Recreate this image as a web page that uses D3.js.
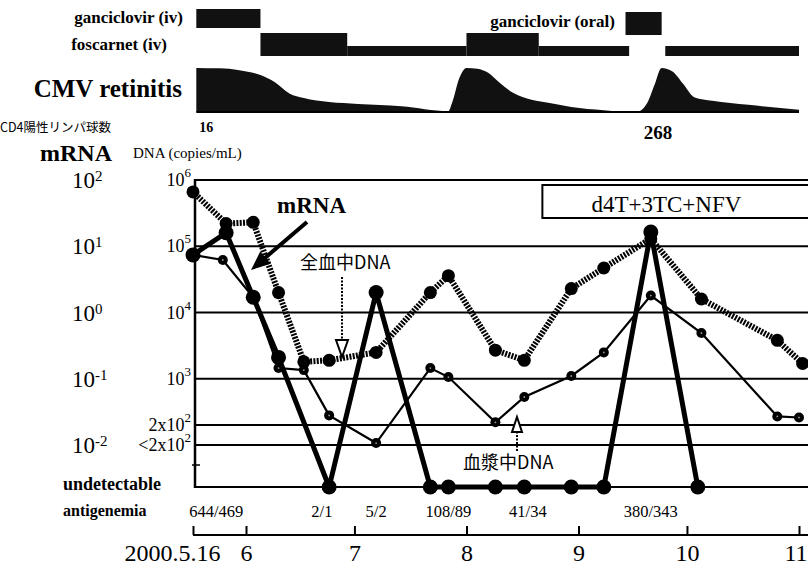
<!DOCTYPE html>
<html lang="ja">
<head>
<meta charset="UTF-8">
<title>CMV retinitis course</title>
<style>
  body { margin: 0; background: #fff; }
  svg text { font-family: "Liberation Serif", "DejaVu Serif", serif; fill: #000; }
  svg text.jp { font-family: "Noto Sans CJK JP", sans-serif; }
</style>
</head>
<body>
<script src="https://cdn.jsdelivr.net/npm/d3@7"></script>
<script>
// ---- data ----
// whole blood DNA (copies/mL)
let wbDates = ["2000-05-16","2000-05-26","2000-06-03","2000-06-10","2000-06-17","2000-06-24","2000-07-07","2000-07-22","2000-07-27","2000-08-09","2000-08-17","2000-08-30","2000-09-08","2000-09-21","2000-10-05","2000-10-26","2000-11-02"];
let wbDNA = [660000,220000,230000,20000,1800,1900,2500,20000,36000,2700,1900,23000,47000,130000,16000,3800,1700];

// plasma DNA (copies/mL)
let plDates = ["2000-05-16","2000-05-25","2000-06-03","2000-06-10","2000-06-17","2000-06-24","2000-07-07","2000-07-22","2000-07-27","2000-08-09","2000-08-17","2000-08-30","2000-09-08","2000-09-21","2000-10-05","2000-10-26","2000-11-01"];
let plDNA = [74000,62000,17000,1450,1350,280,107,1450,1060,220,530,1100,2500,18000,4900,270,260];

// mRNA, null = undetectable
let mrDates = ["2000-05-16","2000-05-26","2000-06-03","2000-06-10","2000-06-24","2000-07-07","2000-07-22","2000-07-27","2000-08-09","2000-08-17","2000-08-30","2000-09-08","2000-09-21","2000-10-04"];
let mrRNA = [7.4,16,1.7,0.21,null,2.0,null,null,null,null,null,null,16.4,null];

// CMV retinitis activity (0..1)
let retDates = ["2000-05-17","2000-05-24","2000-05-30","2000-06-05","2000-06-09","2000-06-13","2000-06-17","2000-06-24","2000-07-02","2000-07-14","2000-07-27","2000-07-28","2000-07-30","2000-08-01","2000-08-04","2000-08-07","2000-08-10","2000-08-14","2000-08-19","2000-08-24","2000-08-30","2000-09-08","2000-09-17","2000-09-20","2000-09-22","2000-09-24","2000-09-27","2000-09-30","2000-10-03","2000-10-08","2000-10-18","2000-11-01"];
let retLevel = [0.98,0.97,0.93,0.82,0.66,0.41,0.31,0.22,0.18,0.13,0.02,0.2,0.75,0.98,0.96,0.87,0.66,0.42,0.27,0.2,0.11,0.04,0,0.2,0.6,0.98,0.9,0.62,0.33,0.25,0.16,0.05];

// drugs
let gcvIv = ["2000-05-17","2000-06-05"];
let gcvOral = ["2000-09-14","2000-09-24"];
let fosStart = ["2000-06-05","2000-06-29","2000-08-01","2000-08-21","2000-09-25"];
let fosEnd = ["2000-06-29","2000-08-01","2000-08-21","2000-09-15","2000-11-01"];
let fosDose = ["induction","maintenance","induction","maintenance","maintenance"];
let haartStart = "2000-08-22";

// CD4 counts and antigenemia
let cd4Dates = ["2000-05-20","2000-09-23"];
let cd4Counts = ["16","268"];
let agDates = ["2000-05-23","2000-06-22","2000-07-07","2000-07-27","2000-08-18","2000-09-21"];
let agLabels = ["644/469","2/1","5/2","108/89","41/34","380/343"];

// axes
let tickDates = ["2000-05-16","2000-06-01","2000-07-01","2000-08-01","2000-09-01","2000-10-01","2000-11-01"];
let tickLabels = ["2000.5.16","6","7","8","9","10","11"];
let dnaTicks = [1e6,1e5,1e4,1e3,200,100];
let dnaBase = ["10","10","10","10","2x10","<2x10"];
let dnaSup = ["6","5","4","3","2","2"];
let rnaTicks = [100,10,1,0.1,0.01];
let rnaSup = ["2","1","0","-1","-2"];

// ---- layout ----
let svgWidth = 808, svgHeight = 569;
let plotLeft = 195, plotTop = 180, plotRight = 808, plotBottom = 487;
let parse = d3.timeParse("%Y-%m-%d");

let svg = d3.select("body").append("svg")
    .attr("width", svgWidth)
    .attr("height", svgHeight);

svg.append("rect").attr("width", svgWidth).attr("height", svgHeight).attr("fill", "#fff");

// scales
let x = d3.scaleTime()
    .domain([parse("2000-05-16"), parse("2000-06-01"), parse("2000-11-01")])
    .range([193, 246, 799]);
let yDNA = d3.scaleLog().domain([1e2, 1e6]).range([445, plotTop]);
let yRNA = d3.scaleLog().domain([1e-2, 1e2]).range([445, plotTop]);
let yRet = d3.scaleLinear().domain([0, 1]).range([112, 67]);

// ---- top panel: drugs ----
svg.append("rect")
    .attr("x", x(parse(gcvIv[0])))
    .attr("width", x(parse(gcvIv[1])) - x(parse(gcvIv[0])))
    .attr("y", 9).attr("height", 19)
    .attr("fill", "#111");

svg.append("rect")
    .attr("x", x(parse(gcvOral[0])))
    .attr("width", x(parse(gcvOral[1])) - x(parse(gcvOral[0])))
    .attr("y", 12).attr("height", 23)
    .attr("fill", "#111");

svg.append("g").selectAll("rect")
    .data(fosStart.map((d, i) => ({ s: parse(d), e: parse(fosEnd[i]), dose: fosDose[i] })))
    .join("rect")
    .attr("x", d => x(d.s))
    .attr("width", d => x(d.e) - x(d.s))
    .attr("y", d => d.dose === "induction" ? 33 : 46)
    .attr("height", d => d.dose === "induction" ? 23 : 10)
    .attr("fill", "#111");

svg.append("text").attr("x", 183).attr("y", 23).attr("text-anchor", "end")
    .style("font-size", "17px").style("font-weight", "bold").text("ganciclovir (iv)");
svg.append("text").attr("x", 167).attr("y", 50).attr("text-anchor", "end")
    .style("font-size", "17px").style("font-weight", "bold").text("foscarnet (iv)");
svg.append("text").attr("x", 615).attr("y", 27).attr("text-anchor", "end")
    .style("font-size", "17px").style("font-weight", "bold").text("ganciclovir (oral)");

// ---- retinitis ----
let ret = retDates.map((d, i) => ({ date: parse(d), v: retLevel[i] }));
svg.append("path").datum(ret)
    .attr("d", d3.area().x(d => x(d.date)).y0(yRet(0)).y1(d => yRet(d.v)).curve(d3.curveMonotoneX))
    .attr("fill", "#111");
svg.append("line")
    .attr("x1", x(ret[0].date)).attr("x2", x(ret[ret.length - 1].date))
    .attr("y1", yRet(0)).attr("y2", yRet(0))
    .attr("stroke", "#000").attr("stroke-width", 2);

svg.append("text").attr("x", 182).attr("y", 97).attr("text-anchor", "end")
    .style("font-size", "25px").style("font-weight", "bold").text("CMV retinitis");

// CD4
svg.append("text").attr("class", "jp").attr("x", 0).attr("y", 132)
    .style("font-size", "12.5px").text("CD4陽性リンパ球数");
svg.append("g").selectAll("text").data(cd4Counts).join("text")
    .attr("x", (d, i) => x(parse(cd4Dates[i])))
    .attr("y", (d, i) => i === 0 ? 132 : 139)
    .attr("text-anchor", "middle")
    .style("font-size", (d, i) => i === 0 ? "14px" : "19px")
    .style("font-weight", "bold")
    .text(d => d);

// ---- main plot ----
svg.append("text").attr("x", 40).attr("y", 161)
    .style("font-size", "24px").style("font-weight", "bold").text("mRNA");
svg.append("text").attr("x", 133).attr("y", 158)
    .style("font-size", "15px").text("DNA (copies/mL)");

// grid lines
svg.append("g").selectAll("line").data(dnaTicks).join("line")
    .attr("x1", plotLeft).attr("x2", plotRight)
    .attr("y1", d => yDNA(d)).attr("y2", d => yDNA(d))
    .attr("stroke", "#000").attr("stroke-width", 2);
svg.append("line")
    .attr("x1", plotLeft).attr("x2", plotRight)
    .attr("y1", plotBottom).attr("y2", plotBottom)
    .attr("stroke", "#000").attr("stroke-width", 2.2);
svg.append("line")
    .attr("x1", plotLeft).attr("x2", plotLeft)
    .attr("y1", plotTop - 1).attr("y2", plotBottom + 1)
    .attr("stroke", "#000").attr("stroke-width", 2.5);
svg.append("line")
    .attr("x1", plotLeft - 3).attr("x2", plotLeft + 5)
    .attr("y1", plotBottom - 22).attr("y2", plotBottom - 22)
    .attr("stroke", "#000").attr("stroke-width", 1.5);

// DNA labels
let dnaLab = svg.append("g").selectAll("text").data(dnaTicks).join("text")
    .attr("x", 191)
    .attr("y", d => yDNA(d) + 6)
    .attr("text-anchor", "end")
    .style("font-size", "18px");
dnaLab.append("tspan").text((d, i) => dnaBase[i]);
dnaLab.append("tspan").attr("dy", -9).style("font-size", "13px").text((d, i) => dnaSup[i]);

// mRNA labels
let rnaLab = svg.append("g").selectAll("text").data(rnaTicks).join("text")
    .attr("x", 72)
    .attr("y", d => yRNA(d) + 8)
    .style("font-size", "23px");
rnaLab.append("tspan").text("10");
rnaLab.append("tspan").attr("dy", -7).style("font-size", "15px").text((d, i) => rnaSup[i]);

svg.append("text").attr("x", 63).attr("y", 490)
    .style("font-size", "18px").style("font-weight", "bold").text("undetectable");
svg.append("text").attr("x", 63).attr("y", 516)
    .style("font-size", "16px").style("font-weight", "bold").text("antigenemia");

svg.append("g").selectAll("text").data(agLabels).join("text")
    .attr("x", (d, i) => x(parse(agDates[i])))
    .attr("y", 517)
    .attr("text-anchor", "middle")
    .style("font-size", "16.5px")
    .text(d => d);

// treatment box
let boxX = x(parse(haartStart));
svg.append("rect")
    .attr("x", boxX).attr("y", plotTop + 5)
    .attr("width", svgWidth + 10 - boxX).attr("height", 33)
    .attr("fill", "#fff").attr("stroke", "#000").attr("stroke-width", 2);
svg.append("text").attr("x", boxX + 124).attr("y", plotTop + 32)
    .attr("text-anchor", "middle").style("font-size", "23px").text("d4T+3TC+NFV");

// series
let wb = wbDates.map((d, i) => ({ date: parse(d), v: wbDNA[i] }));
let pl = plDates.map((d, i) => ({ date: parse(d), v: plDNA[i] }));
let mr = mrDates.map((d, i) => ({ date: parse(d), v: mrRNA[i] }));

let lineDNA = d3.line().x(d => x(d.date)).y(d => yDNA(d.v));
let yMr = d => d.v === null ? plotBottom : yRNA(d.v);
let lineRNA = d3.line().x(d => x(d.date)).y(yMr);

svg.append("path").datum(pl).attr("d", lineDNA)
    .attr("fill", "none").attr("stroke", "#000").attr("stroke-width", 2.2);
svg.append("path").datum(wb).attr("d", lineDNA)
    .attr("fill", "none").attr("stroke", "#000").attr("stroke-width", 6)
    .attr("stroke-dasharray", "2,1.3");
svg.append("path").datum(mr).attr("d", lineRNA)
    .attr("fill", "none").attr("stroke", "#000").attr("stroke-width", 5)
    .attr("stroke-linejoin", "round");

svg.append("g").selectAll("circle").data(pl).join("circle")
    .attr("cx", d => x(d.date)).attr("cy", d => yDNA(d.v)).attr("r", 5)
    .attr("fill", "#000");
svg.append("g").selectAll("circle").data(pl).join("circle")
    .attr("cx", d => x(d.date)).attr("cy", d => yDNA(d.v)).attr("r", 0.9)
    .attr("fill", "#999");
svg.append("g").selectAll("circle").data(wb).join("circle")
    .attr("cx", d => x(d.date)).attr("cy", d => yDNA(d.v)).attr("r", 6.5)
    .attr("fill", "#000");
svg.append("g").selectAll("circle").data(mr).join("circle")
    .attr("cx", d => x(d.date)).attr("cy", yMr).attr("r", 7.5)
    .attr("fill", "#000");

// annotations
svg.append("text").attr("x", 277).attr("y", 213)
    .style("font-size", "23px").style("font-weight", "bold").text("mRNA");

function arrowHead(tail, tip, len, half) {
    let dx = tip[0] - tail[0], dy = tip[1] - tail[1];
    let n = Math.hypot(dx, dy);
    let ux = dx / n, uy = dy / n;
    let bx = tip[0] - ux * len, by = tip[1] - uy * len;
    return [tip, [bx - uy * half, by + ux * half], [bx + uy * half, by - ux * half]];
}

let mTail = [307, 222], mTip = [251, 270];
svg.append("line").attr("x1", mTail[0]).attr("y1", mTail[1]).attr("x2", 262).attr("y2", 260.5)
    .attr("stroke", "#000").attr("stroke-width", 4);
svg.append("path").attr("d", d3.line()(arrowHead(mTail, mTip, 19, 8)) + "Z").attr("fill", "#000");

svg.append("text").attr("class", "jp").attr("x", 300).attr("y", 269)
    .style("font-size", "18px").text("全血中DNA");
svg.append("line").attr("x1", 342).attr("y1", 277).attr("x2", 342).attr("y2", 341)
    .attr("stroke", "#000").attr("stroke-width", 2).attr("stroke-dasharray", "2,1.5");
svg.append("path").attr("d", d3.line()(arrowHead([342, 277], [342, 357], 17, 6)) + "Z")
    .attr("fill", "#fff").attr("stroke", "#000").attr("stroke-width", 2);

svg.append("text").attr("class", "jp").attr("x", 463).attr("y", 469)
    .style("font-size", "18px").text("血漿中DNA");
svg.append("line").attr("x1", 517).attr("y1", 451).attr("x2", 517).attr("y2", 431)
    .attr("stroke", "#000").attr("stroke-width", 2).attr("stroke-dasharray", "2,1.5");
svg.append("path").attr("d", d3.line()(arrowHead([517, 451], [517, 417], 15, 5)) + "Z")
    .attr("fill", "#fff").attr("stroke", "#000").attr("stroke-width", 2);

// x axis
let xAxis = d3.axisBottom(x)
    .tickValues(tickDates.map(parse))
    .tickSize(-9)
    .tickSizeOuter(0)
    .tickPadding(9)
    .tickFormat((d, i) => tickLabels[i]);
let gx = svg.append("g")
    .attr("transform", "translate(0,535)")
    .call(xAxis);
gx.attr("font-family", null).attr("font-size", null);
gx.select(".domain").remove();
gx.selectAll(".tick line").attr("stroke-width", 2);
gx.selectAll(".tick text").style("font-size", "24px");
gx.selectAll(".tick text").filter((d, i) => i === 0).attr("dx", -21);
// keep the last label inside the picture
gx.selectAll(".tick text").filter((d, i) => i === tickLabels.length - 1)
    .attr("text-anchor", "end").attr("dx", 8);
svg.append("line").attr("x1", 193).attr("x2", svgWidth).attr("y1", 535).attr("y2", 535)
    .attr("stroke", "#000").attr("stroke-width", 2.2);
</script>
</body>
</html>
